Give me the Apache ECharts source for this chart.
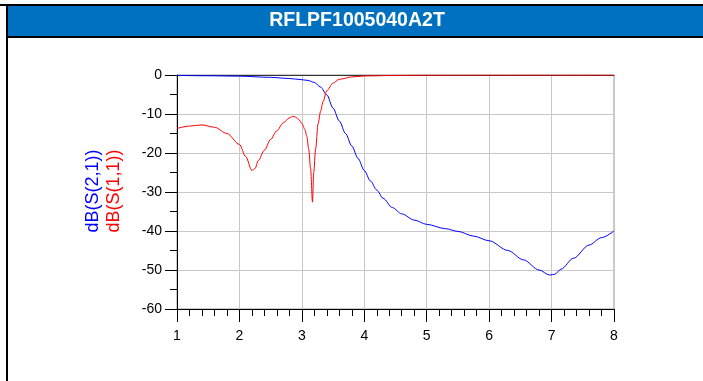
<!DOCTYPE html>
<html>
<head>
<meta charset="utf-8">
<script src="https://cdn.jsdelivr.net/npm/echarts@6/dist/echarts.min.js"></script>
<style>
html,body{margin:0;padding:0;background:#fff;}
#c{width:703px;height:381px;}
</style>
</head>
<body>
<div id="c"></div>
<script>
const titleText = 'RFLPF1005040A2T';
const s21Name = 'dB(S(2,1))';
const s11Name = 'dB(S(1,1))';
const xTicks = [1, 2, 3, 4, 5, 6, 7, 8];
const yTicks = [0, -10, -20, -30, -40, -50, -60];

// S21 (blue)
const s21Freq = [1.0, 1.5, 2.0, 2.5, 2.8, 3.0, 3.1, 3.2, 3.3, 3.4, 3.5, 3.6, 3.7, 3.8, 3.9, 4.0, 4.1, 4.2, 4.3, 4.45, 4.6, 4.8, 5.0, 5.3, 5.5, 5.75, 6.0, 6.3, 6.55, 6.8, 6.97, 7.05, 7.15, 7.35, 7.6, 7.8, 8.0];
const s21Val  = [-0.1, -0.2, -0.3, -0.6, -0.9, -1.2, -1.4, -1.9, -3.1, -5.1, -8.5, -11.8, -15.0, -18.2, -21.4, -24.5, -27.2, -29.5, -31.6, -34.0, -35.6, -37.2, -38.3, -39.4, -40.1, -41.3, -42.5, -45.0, -47.4, -50.0, -51.3, -51.1, -49.8, -47.0, -43.6, -41.7, -40.0];

// S11 (red)
const s11Freq = [1.0, 1.2, 1.4, 1.6, 1.8, 2.0, 2.1, 2.2, 2.25, 2.3, 2.4, 2.5, 2.6, 2.7, 2.8, 2.85, 2.9, 2.95, 3.0, 3.05, 3.08, 3.11, 3.14, 3.17, 3.19, 3.22, 3.26, 3.3, 3.34, 3.4, 3.5, 3.6, 3.8, 4.0, 4.5, 5.0, 6.0, 7.0, 8.0];
const s11Val  = [-13.7, -13.1, -12.8, -13.4, -15.0, -17.8, -20.9, -24.5, -24.0, -22.0, -19.3, -16.5, -14.3, -12.3, -11.0, -10.6, -10.8, -11.4, -12.4, -14.0, -15.8, -19.0, -24.0, -32.6, -25.0, -19.0, -12.5, -9.3, -6.8, -4.0, -2.1, -1.1, -0.5, -0.25, -0.1, -0.05, -0.03, -0.02, -0.02];

const pair = (xs, ys) => xs.map((x, i) => [x, ys[i]]);

const chart = echarts.init(document.getElementById('c'), null, {renderer: 'canvas'});
const FONT = '"Liberation Sans", Arial, sans-serif';
chart.setOption({
  animation: false,
  backgroundColor: '#ffffff',
  grid: {left: 177, top: 75, right: 89, bottom: 72, show: true, borderColor: '#9a9a9a', borderWidth: 1},
  xAxis: [{
    type: 'value', min: xTicks[0], max: xTicks[xTicks.length - 1], interval: 1,
    axisLine: {show: true, onZero: false, lineStyle: {color: '#000', width: 1}},
    axisTick: {show: true, inside: false, length: 13, lineStyle: {color: '#000'}},
    minorTick: {show: true, splitNumber: 5, length: 7, lineStyle: {color: '#000'}},
    splitLine: {show: true, lineStyle: {color: '#c8c8c8', width: 1}},
    axisLabel: {color: '#000', fontSize: 14, fontFamily: FONT, margin: 20}
  }, {
    type: 'value', position: 'top', min: xTicks[0], max: xTicks[xTicks.length - 1], interval: 1,
    axisLine: {show: true, onZero: false, lineStyle: {color: '#333', width: 1}},
    axisTick: {show: false}, axisLabel: {show: false}, splitLine: {show: false}
  }],
  yAxis: {
    type: 'value', min: yTicks[yTicks.length - 1], max: yTicks[0], interval: 10,
    axisLine: {show: true, onZero: false, lineStyle: {color: '#000', width: 1}},
    axisTick: {show: true, inside: false, length: 12, lineStyle: {color: '#000'}},
    minorTick: {show: true, splitNumber: 2, length: 7, lineStyle: {color: '#000'}},
    splitLine: {show: true, lineStyle: {color: '#c8c8c8', width: 1}},
    axisLabel: {color: '#000', fontSize: 14, fontFamily: FONT, margin: 15}
  },
  series: [{
    name: s21Name, type: 'line', data: pair(s21Freq, s21Val), showSymbol: false,
    smooth: 0.3, smoothMonotone: 'x', lineStyle: {color: '#0000ff', width: 1}, z: 3
  }, {
    name: s11Name, type: 'line', data: pair(s11Freq, s11Val), showSymbol: false,
    smooth: 0.3, smoothMonotone: 'x', lineStyle: {color: '#ff0000', width: 1}, z: 4
  }],
  graphic: [
    {type: 'rect', shape: {x: 0, y: 4, width: 703, height: 2}, style: {fill: '#000'}, z: 10},
    {type: 'rect', shape: {x: 8, y: 6, width: 695, height: 30}, style: {fill: '#0070c0'}, z: 10},
    {type: 'rect', shape: {x: 6, y: 36, width: 697, height: 2}, style: {fill: '#000'}, z: 10},
    {type: 'rect', shape: {x: 6, y: 4, width: 2, height: 377}, style: {fill: '#000'}, z: 10},
    {type: 'text', x: 357, y: 21, z: 11, style: {text: titleText, fill: '#fff', font: 'bold 19.5px ' + FONT, textAlign: 'center', textVerticalAlign: 'middle'}},
    {type: 'text', x: 93, y: 191, rotation: Math.PI / 2, z: 11, style: {text: s21Name, fill: '#0000ff', font: '18px ' + FONT, textAlign: 'center', textVerticalAlign: 'middle'}},
    {type: 'text', x: 114, y: 191, rotation: Math.PI / 2, z: 11, style: {text: s11Name, fill: '#ff0000', font: '18px ' + FONT, textAlign: 'center', textVerticalAlign: 'middle'}}
  ]
});
</script>
</body>
</html>
